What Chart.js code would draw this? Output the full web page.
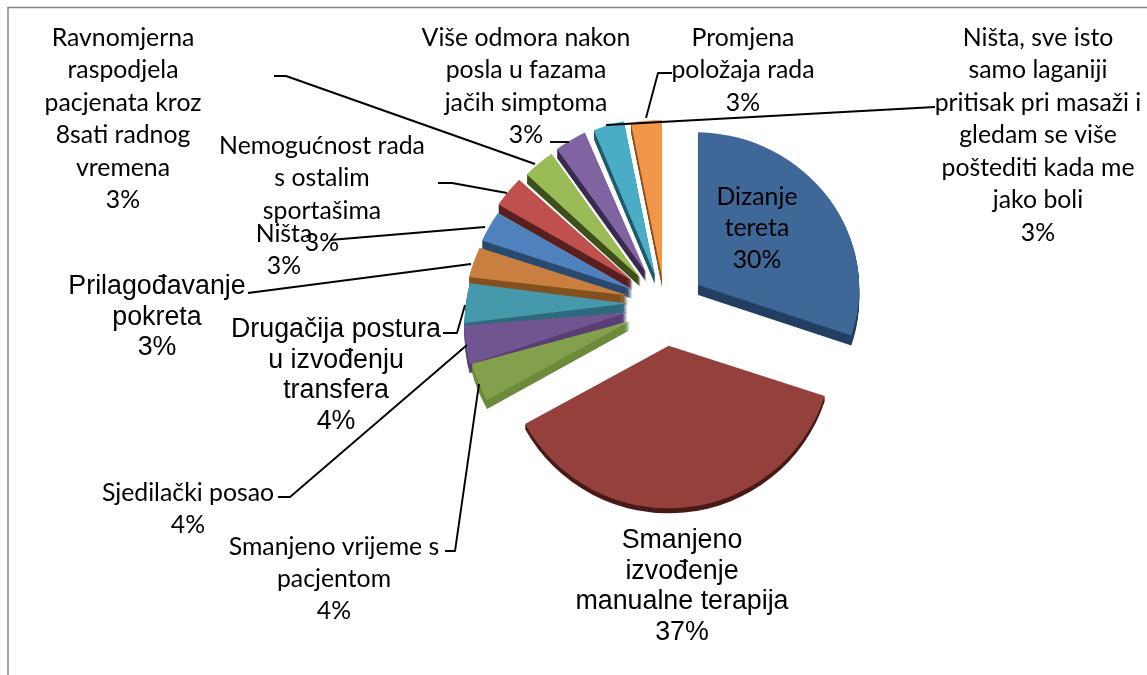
<!DOCTYPE html>
<html>
<head>
<meta charset="utf-8">
<style>html,body{margin:0;padding:0;background:#fff;overflow:hidden}canvas{display:block}</style>
<script src="https://cdn.jsdelivr.net/npm/chart.js@4"></script>
</head>
<body>
<canvas id="c" width="1147" height="675"></canvas>
<script>
const categories = ["Dizanje tereta","Smanjeno izvođenje manualne terapija","Smanjeno vrijeme s pacjentom","Sjedilački posao","Drugačija postura u izvođenju transfera","Prilagođavanje pokreta","Ništa","Nemogućnost rada s ostalim sportašima","Ravnomjerna raspodjela pacjenata kroz 8sati radnog vremena","Više odmora nakon posla u fazama jačih simptoma","Ništa, sve isto samo laganiji pritisak pri masaži i gledam se više poštediti kada me jako boli","Promjena položaja rada"];
const values = [30,37,4,4,4,3,3,3,3,3,3,3];
const topColors = ["#3f6797","#94403d","#84a04c","#715591","#4698ab","#c97f3f","#4f81bd","#c0504d","#9bbb59","#8064a2","#4bacc6","#f0964a"];
const sideColors = ["#233f62","#4a1a18","#6f8a3c","#5a3f75","#2f6a7c","#85501f","#2a4a70","#5a2020","#3f4f1c","#3a2a50","#205a6c","#8a5020"];
const labelLines = [
 ["Dizanje","tereta"],
 ["Smanjeno","izvođenje","manualne terapija"],
 ["Smanjeno vrijeme s","pacjentom"],
 ["Sjedilački posao"],
 ["Drugačija postura","u izvođenju","transfera"],
 ["Prilagođavanje","pokreta"],
 ["Ništa"],
 ["Nemogućnost rada","s ostalim","sportašima"],
 ["Ravnomjerna","raspodjela","pacjenata kroz","8sati radnog","vremena"],
 ["Više odmora nakon","posla u fazama","jačih simptoma"],
 ["Ništa, sve isto","samo laganiji","pritisak pri masaži i","gledam se više","poštediti kada me","jako boli"],
 ["Promjena","položaja rada"]
];

/* layout and style only */
const explode = [41,40,38,38,38,39,38,43,40,42,36,32];
const depth   = [10,5,9,9,9,9,9,9,9,9,9,9];
const shear   = [0.02,0,-0.02,-0.08,-0.12,-0.13,-0.12,-0.12,-0.10,-0.11,-0.03,0];
const scaleX  = [0.97,0.988,0.98,0.98,0.98,0.99,1,1,1,1,1,1];
const scaleY  = [0.97,1.03,1,1,1,1,1,1,1,1,1,1];
const tilt = 0.95;
const SANS = 'Lato, "Open Sans", sans-serif';
const ARIAL = '"Liberation Sans", Arial, sans-serif';
const labelPos = [
 {x:757,y:197,step:31.5,f:SANS,s:24.8},
 {x:682,y:541,step:30.5,f:ARIAL,s:26.8},
 {x:334,y:547,step:32,f:SANS,s:24.8},
 {x:188,y:493,step:32,f:SANS,s:24.8},
 {x:336,y:330,step:30.5,f:ARIAL,s:26.8},
 {x:157,y:287,step:30.5,f:ARIAL,s:26.8},
 {x:284,y:234,step:32,f:SANS,s:24.8},
 {x:322,y:146,step:32.3,f:SANS,s:24.8},
 {x:123,y:38,step:32.4,f:SANS,s:24.8},
 {x:526,y:38,step:32.3,f:SANS,s:24.8},
 {x:1038,y:38,step:32.5,f:SANS,s:24.8},
 {x:743,y:38,step:32.5,f:SANS,s:24.8}
];
const leaders = [
 [[274,76],[286,76],[535,164]],
 [[438,183],[452,183],[507,193]],
 [[330,240],[485,227]],
 [[248,293],[471,264]],
 [[443,333],[457,333],[465,305]],
 [[278,497],[290,497],[467,345]],
 [[445,551],[455,551],[479,384]],
 [[550,142],[569,142]],
 [[672,73],[658,73],[646,118]],
 [[935,107],[606,125]]
];

const pie3d = {
  id:'pie3d',
  beforeDatasetDraw(chart){
    const ctx = chart.ctx, arcs = chart.getDatasetMeta(0).data;
    const order = [11,10,9,8,7,6,5,4,3,2,0,1];
    order.forEach(i=>{
      const el = arcs[i], base = el.options;
      const mid = (el.startAngle+el.endAngle)/2;
      const ax = el.x+Math.cos(mid)*explode[i], ay = el.y+Math.sin(mid)*explode[i]*tilt;
      const paint = (dy,color)=>{
        ctx.save();
        ctx.translate(ax,ay+dy);
        ctx.transform(1,shear[i],0,1,0,0);
        ctx.scale(scaleX[i],scaleY[i]*tilt);
        ctx.translate(-el.x,-el.y);
        el.options = Object.assign({},base,{backgroundColor:color,borderWidth:0,offset:0});
        el.draw(ctx);
        el.options = base;
        ctx.restore();
      };
      for(let d=depth[i];d>=1;d--) paint(d,sideColors[i]);
      paint(0,topColors[i]);
    });
    return false;
  },
  afterDraw(chart){
    const ctx = chart.ctx;
    ctx.save();
    ctx.strokeStyle='#868686'; ctx.lineWidth=1.5;
    ctx.beginPath(); ctx.moveTo(8,675); ctx.lineTo(8,7.5); ctx.lineTo(1147,7.5); ctx.stroke();
    ctx.strokeStyle='#000'; ctx.lineWidth=1.9; ctx.lineJoin='round';
    leaders.forEach(p=>{
      ctx.beginPath();
      p.forEach((q,i)=> i?ctx.lineTo(q[0],q[1]):ctx.moveTo(q[0],q[1]));
      ctx.stroke();
    });
    ctx.fillStyle='#000'; ctx.textAlign='center'; ctx.textBaseline='middle';
    labelPos.forEach((p,i)=>{
      ctx.font = p.s+'px '+p.f;
      labelLines[i].concat([values[i]+'%']).forEach((t,j)=>ctx.fillText(t,p.x,p.y+j*p.step));
    });
    ctx.restore();
  }
};

new Chart(document.getElementById('c'),{
  type:'pie',
  data:{labels:categories,datasets:[{data:values,backgroundColor:topColors,borderWidth:0,radius:166}]},
  options:{
    responsive:false,animation:false,
    layout:{padding:{left:183,bottom:59,top:0,right:0}},
    plugins:{legend:{display:false},tooltip:{enabled:false}},
    events:[]
  },
  plugins:[pie3d]
});
</script>
</body>
</html>
